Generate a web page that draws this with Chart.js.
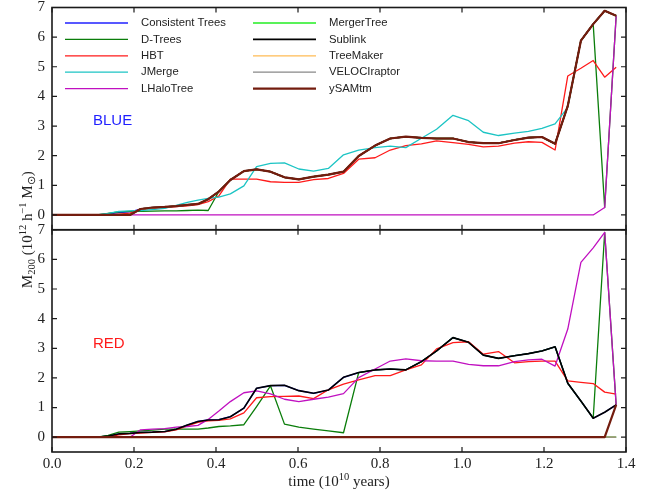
<!DOCTYPE html>
<html>
<head>
<meta charset="utf-8">
<script src="https://cdn.jsdelivr.net/npm/chart.js@4/dist/chart.umd.min.js"></script>
<style>
  html, body { margin: 0; padding: 0; background: #fff; }
  canvas { display: block; }
</style>
</head>
<body>
<canvas id="chart" width="650" height="491"></canvas>
<script>
// snapshot times (10^10 years)
const times = [
  0.0, 0.03, 0.055, 0.08, 0.11, 0.137, 0.163, 0.19, 0.216, 0.245, 0.275,
  0.303, 0.33, 0.356, 0.381, 0.407, 0.435, 0.468, 0.499, 0.533, 0.567, 0.602,
  0.638, 0.674, 0.711, 0.748, 0.788, 0.825, 0.863, 0.901, 0.938, 0.978, 1.016,
  1.052, 1.089, 1.128, 1.162, 1.195, 1.227, 1.258, 1.29, 1.32, 1.348, 1.376
];

const methods = ['Consistent Trees', 'D-Trees', 'HBT', 'JMerge', 'LHaloTree',
                 'MergerTree', 'Sublink', 'TreeMaker', 'VELOCIraptor', 'ySAMtm'];

const xTicks = [0.0, 0.2, 0.4, 0.6, 0.8, 1.0, 1.2, 1.4];
const yTicks = [0, 1, 2, 3, 4, 5, 6, 7];

// ---- BLUE halo (top panel) ----
const blueMain = [
  0, 0, 0, 0, 0, 0, 0, 0, 0.20, 0.25, 0.27,
  0.30, 0.34, 0.37, 0.53, 0.79, 1.18, 1.48, 1.54, 1.46, 1.27, 1.20,
  1.29, 1.36, 1.46, 1.99, 2.34, 2.58, 2.64, 2.60, 2.58, 2.58, 2.46,
  2.42, 2.42, 2.53, 2.61, 2.63, 2.40, 3.68, 5.88, 6.44, 6.89, 6.72
];
const blueCT = [
  0, 0, 0, 0, 0, 0.03, 0.08, 0.10, 0.20, 0.25, 0.27,
  0.30, 0.34, 0.37, 0.53, 0.79, 1.18, 1.48, 1.54, 1.46, 1.27, 1.20,
  1.29, 1.36, 1.46, 1.99, 2.34, 2.58, 2.64, 2.60, 2.58, 2.58, 2.46,
  2.42, 2.42, 2.53, 2.61, 2.63, 2.40, 3.68, 5.88, 6.44, 6.89, 6.72
];
const blueDT = [
  0, 0, 0, 0, 0, 0.05, 0.10, 0.12, 0.12, 0.13, 0.14,
  0.14, 0.15, 0.16, 0.15, 0.79, 1.18, 1.48, 1.54, 1.46, 1.27, 1.20,
  1.29, 1.36, 1.46, 1.99, 2.34, 2.58, 2.64, 2.60, 2.58, 2.58, 2.46,
  2.42, 2.42, 2.53, 2.61, 2.63, 2.40, 3.68, 5.88, 6.44, 0.25, 6.72
];
const blueHBT = [
  0, 0, 0, 0, 0, 0, 0.03, 0.06, 0.18, 0.22, 0.25,
  0.28, 0.31, 0.35, 0.45, 0.64, 1.21, 1.21, 1.21, 1.12, 1.10, 1.10,
  1.19, 1.23, 1.40, 1.88, 1.93, 2.19, 2.34, 2.40, 2.50, 2.44, 2.38,
  2.30, 2.32, 2.42, 2.47, 2.45, 2.19, 4.69, 4.95, 5.21, 4.65, 4.98
];
const blueJM = [
  0, 0, 0, 0, 0, 0.05, 0.12, 0.14, 0.15, 0.18, 0.22,
  0.32, 0.42, 0.50, 0.56, 0.60, 0.71, 0.98, 1.63, 1.74, 1.76, 1.55,
  1.48, 1.57, 2.03, 2.19, 2.27, 2.32, 2.27, 2.59, 2.89, 3.36, 3.18,
  2.79, 2.68, 2.76, 2.82, 2.92, 3.07, 3.63, 5.88, 6.44, 6.89, 6.72
];
const blueLH = [
  0, 0, 0, 0, 0, 0, 0, 0, 0, 0, 0,
  0, 0, 0, 0, 0, 0, 0, 0, 0, 0, 0,
  0, 0, 0, 0, 0, 0, 0, 0, 0, 0, 0,
  0, 0, 0, 0, 0, 0, 0, 0, 0, 0.25, 6.72
];

// ---- RED halo (bottom panel) ----
const redMain = [
  0, 0, 0, 0, 0, 0.04, 0.11, 0.13, 0.16, 0.17, 0.19,
  0.27, 0.41, 0.53, 0.58, 0.59, 0.69, 0.98, 1.65, 1.74, 1.75, 1.57,
  1.48, 1.59, 2.02, 2.18, 2.27, 2.30, 2.27, 2.55, 2.91, 3.36, 3.20,
  2.77, 2.66, 2.75, 2.82, 2.91, 3.05, 1.82, 1.22, 0.64, 0.84, 1.09
];
const redDT = [
  0, 0, 0, 0, 0, 0.06, 0.17, 0.19, 0.21, 0.24, 0.27,
  0.27, 0.27, 0.27, 0.31, 0.36, 0.38, 0.42, 1.03, 1.73, 0.44, 0.34,
  0.27, 0.21, 0.15, 2.18, 2.27, 2.30, 2.27, 2.55, 2.91, 3.36, 3.20,
  2.77, 2.66, 2.75, 2.82, 2.91, 3.05, 1.82, 1.22, 0.64, 6.91, 1.09
];
const redHBT = [
  0, 0, 0, 0, 0, 0, 0.08, 0.12, 0.14, 0.16, 0.18,
  0.25, 0.38, 0.50, 0.55, 0.57, 0.62, 0.82, 1.33, 1.37, 1.38, 1.39,
  1.30, 1.60, 1.79, 1.93, 2.08, 2.08, 2.27, 2.44, 2.98, 3.19, 3.22,
  2.80, 2.89, 2.51, 2.55, 2.57, 2.57, 1.90, 1.85, 1.81, 1.52, 1.45
];
const redLH = [
  0, 0, 0, 0, 0, 0, 0, 0, 0.25, 0.27, 0.29,
  0.34, 0.36, 0.40, 0.60, 0.88, 1.20, 1.50, 1.56, 1.46, 1.28, 1.20,
  1.28, 1.35, 1.47, 2.01, 2.30, 2.57, 2.64, 2.58, 2.57, 2.57, 2.46,
  2.41, 2.41, 2.55, 2.61, 2.63, 2.40, 3.65, 5.90, 6.39, 6.91, 1.09
];
const redYS = [
  0, 0, 0, 0, 0, 0, 0, 0, 0, 0, 0,
  0, 0, 0, 0, 0, 0, 0, 0, 0, 0, 0,
  0, 0, 0, 0, 0, 0, 0, 0, 0, 0, 0,
  0, 0, 0, 0, 0, 0, 0, 0, 0, 0, 1.09
];
const redZero = [
  0, 0, 0, 0, 0, 0, 0, 0, 0, 0, 0,
  0, 0, 0, 0, 0, 0, 0, 0, 0, 0, 0,
  0, 0, 0, 0, 0, 0, 0, 0, 0, 0, 0,
  0, 0, 0, 0, 0, 0, 0, 0, 0, 0, 0
];

const blueSeries = [blueCT, blueDT, blueHBT, blueJM, blueLH, blueMain, blueMain, blueMain, blueMain, blueMain];
const redSeries = [redMain, redDT, redHBT, redZero, redLH, redZero, redMain, redZero, redZero, redYS];

const colors = ['#2020ff', '#0a7d0a', '#ff1a1a', '#1cc4c4', '#c010c0',
                '#22ee22', '#000000', '#ffbb55', '#888888', '#731c0e'];
const widths = [1.3, 1.3, 1.3, 1.3, 1.3, 1.3, 1.6, 1.3, 1.3, 2.2];

const serif = '"Liberation Serif", "Times New Roman", serif';
const sans = '"Liberation Sans", Arial, sans-serif';
const inkColor = '#1a1a1a';

function makeDataset(name, i, values, axis) {
    return {
        label: name,
        data: times.map((t, k) => ({x: t, y: values[k]})),
        yAxisID: axis,
        borderColor: colors[i],
        backgroundColor: colors[i],
        borderWidth: widths[i],
        pointRadius: 0,
        tension: 0,
        fill: false,
        borderJoinStyle: 'round',
        order: 9 - i   // later methods drawn on top, like matplotlib
    };
}

const datasets = [];
methods.forEach((m, i) => datasets.push(makeDataset(m, i, blueSeries[i], 'yTop')));
methods.forEach((m, i) => datasets.push(makeDataset(m, i, redSeries[i], 'yBot')));

// draw a string made of normal / super / subscript pieces
function drawRich(ctx, parts, x, y, size) {
    let total = 0;
    parts.forEach(p => {
        ctx.font = (p[1] ? size * 0.7 : size) + 'px ' + serif;
        p.w = ctx.measureText(p[0]).width;
        total += p.w;
    });
    let cx = x - total / 2;
    parts.forEach(p => {
        ctx.font = (p[1] ? size * 0.7 : size) + 'px ' + serif;
        const shift = p[1] === 'sup' ? -size * 0.38 : (p[1] === 'sub' ? size * 0.22 : 0);
        ctx.fillText(p[0], cx, y + shift);
        cx += p.w;
    });
}

const decorations = {
    id: 'decorations',
    beforeDraw(chart) {
        const ctx = chart.ctx;
        ctx.save();
        ctx.fillStyle = '#fff';
        ctx.fillRect(0, 0, chart.width, chart.height);
        ctx.restore();
    },
    afterDatasetsDraw(chart) {
        const {ctx, chartArea: ca, scales} = chart;
        const x = scales.x;
        ctx.save();
        ctx.strokeStyle = inkColor;
        ['yTop', 'yBot'].forEach(id => {
            const y = scales[id];
            ctx.lineWidth = 1.2;
            ctx.beginPath();
            xTicks.forEach(v => {
                const px = x.getPixelForValue(v);
                ctx.moveTo(px, y.bottom); ctx.lineTo(px, y.bottom - 5);
                ctx.moveTo(px, y.top); ctx.lineTo(px, y.top + 5);
            });
            yTicks.forEach(v => {
                const py = y.getPixelForValue(v);
                ctx.moveTo(ca.left, py); ctx.lineTo(ca.left + 5, py);
                ctx.moveTo(ca.right, py); ctx.lineTo(ca.right - 5, py);
            });
            ctx.stroke();
            ctx.lineWidth = 1.6;
            ctx.strokeRect(ca.left, y.top, ca.right - ca.left, y.bottom - y.top);
        });

        // legend, two columns inside the top panel
        const top = scales.yTop.top;
        ctx.font = '11.3px ' + sans;
        ctx.textBaseline = 'middle';
        ctx.textAlign = 'left';
        methods.forEach((m, i) => {
            const col = Math.floor(i / 5), row = i % 5;
            const lx = ca.left + 13 + col * 188;
            const ly = top + 15.5 + row * 16.4;
            ctx.strokeStyle = colors[i];
            ctx.lineWidth = widths[i];
            ctx.beginPath();
            ctx.moveTo(lx, ly); ctx.lineTo(lx + 63, ly);
            ctx.stroke();
            ctx.fillStyle = '#222';
            ctx.fillText(m, lx + 76, ly);
        });

        // panel names
        ctx.font = '15px ' + sans;
        ctx.fillStyle = '#1f1fff';
        ctx.fillText('BLUE', x.getPixelForValue(0.1), scales.yTop.getPixelForValue(3.18));
        ctx.fillStyle = '#ff1a1a';
        ctx.fillText('RED', x.getPixelForValue(0.1), scales.yBot.getPixelForValue(3.14));

        // axis titles
        ctx.fillStyle = '#222';
        ctx.textBaseline = 'alphabetic';
        drawRich(ctx, [['time ('], ['10'], ['10', 'sup'], [' years)']],
                 (ca.left + ca.right) / 2, 486, 15);
        ctx.translate(32, (ca.top + ca.bottom) / 2);
        ctx.rotate(-Math.PI / 2);
        drawRich(ctx, [['M'], ['200', 'sub'], [' (10'], ['12', 'sup'], [' h'], ['\u22121', 'sup'],
                       [' M'], ['\u2299', 'sub'], [')']], 0, 0, 15);
        ctx.restore();
    }
};

function yAxis() {
    return {
        type: 'linear',
        position: 'left',
        stack: 'panels',
        stackWeight: 1,
        min: -0.5,
        max: 7,
        afterBuildTicks: s => { s.ticks = yTicks.map(v => ({value: v})); },
        afterFit: s => { s.width = 52; s.paddingTop = 0; s.paddingBottom = 0; },
        ticks: {
            font: {family: serif, size: 15},
            color: '#222',
            padding: 7,
            autoSkip: false,
            callback: v => String(v)
        },
        grid: {display: false, drawTicks: false},
        border: {display: false}
    };
}

new Chart(document.getElementById('chart').getContext('2d'), {
    type: 'line',
    data: {datasets: datasets},
    options: {
        responsive: false,
        animation: false,
        layout: {padding: {top: 7.5, right: 24, bottom: 0, left: 0}},
        plugins: {legend: {display: false}, tooltip: {enabled: false}},
        scales: {
            x: {
                type: 'linear',
                min: 0,
                max: 1.4,
                afterBuildTicks: s => { s.ticks = xTicks.map(v => ({value: v})); },
                afterFit: s => { s.height = 39; s.paddingLeft = 0; s.paddingRight = 0; },
                ticks: {
                    font: {family: serif, size: 15},
                    color: '#222',
                    padding: 3,
                    maxRotation: 0,
                    autoSkip: false,
                    callback: v => v.toFixed(1)
                },
                grid: {display: false, drawTicks: false},
                border: {display: false}
            },
            yBot: yAxis(),
            yTop: yAxis()
        }
    },
    plugins: [decorations]
});
</script>
</body>
</html>
